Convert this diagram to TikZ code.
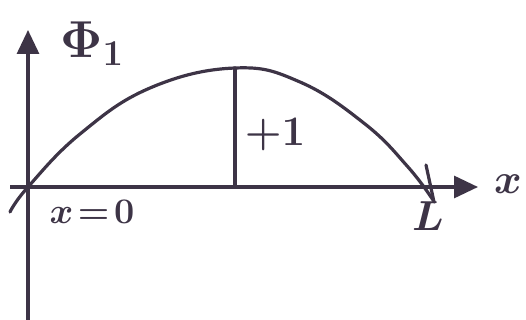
\RequirePackage{fix-cm}
\documentclass[tikz,border=0pt]{standalone}
\usepackage{tikz}
\usetikzlibrary{arrows.meta, positioning}
\definecolor{penink}{HTML}{3d3446}

\begin{document}
\begin{tikzpicture}[
    x=1pt, y=-1pt,
    axis/.style={line width=3.2pt, penink, -{Triangle[length=24pt, width=22pt]}},
    ink/.style={line width=3.2pt, penink, line cap=round},
    lbl/.style={text=penink, font=\fontsize{42}{42}\selectfont\boldmath, inner sep=0pt}
]
\useasboundingbox (0,0) rectangle (526,320);

% Axes
\coordinate (origin) at (28,187);
\coordinate (ybot) at (28,320);
\coordinate (ytop) at (28,30);
\coordinate (xleft) at (10,187);
\coordinate (xright) at (478,187);
\draw[axis] (ybot) -- (ytop);
\draw[axis] (xleft) -- (xright);

% Curve
\draw[ink] plot[smooth, tension=0.7] coordinates {(10,212) (28,187) (80,134) (150,88) (235,68) (300,82) (365,124) (408,167) (433,200)};

% Height
\coordinate (peak) at (235,68);
\coordinate (foot) at (235,187);
\draw[ink] (peak) -- (foot);

% Tick at L
\coordinate (ticktop) at (426,165);
\coordinate (tickbot) at (434,202);
\draw[ink] (ticktop) -- (tickbot);

% Labels
\node[lbl, font=\fontsize{52}{52}\selectfont\boldmath] (phi) at (92,44) {$\Phi_1$};
\node[lbl] (xlbl) at (508,184) {$x$};
\node[lbl, font=\fontsize{36}{36}\selectfont\boldmath] (zero) at (92,212) {$x\!=\!0$};
\node[lbl] (len) at (428,216) {$L$};
\node[lbl] (one) at (275,135) {$+1$};
\end{tikzpicture}
\end{document}
